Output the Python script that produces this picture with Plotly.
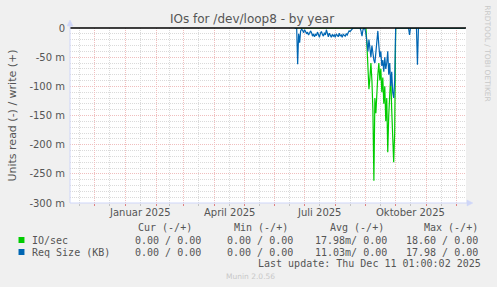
import plotly.graph_objects as go
import pandas as pd

# ---------------- data ----------------
x_start = "2024-11-06 01:00"
x_end = "2025-12-11 01:00"
first_day = "2025-06-21"

# IO/sec, read (-) part, milli-units, one value per day from first_day
io_read = [
    0, 0, 0, 0, 0, 0, 0, 0, 0, 0, 0, 0, 0, 0, 0, 0, 0, 0, 0, 0,
    0, 0, 0, 0, 0, 0, 0, 0, 0, 0, 0, 0, 0, 0, 0, 0, 0, 0, 0, 0,
    0, 0, 0, 0, 0, 0, 0, 0, 0, 0, 0, 0, 0, 0, 0, 0, 0, 0, 0, 0,
    0, 0, 0, 0, 0, 0, 0, 0, 0, 0, 0, 0, 0,
    -30, -70, -105, -85, -60, -90, -140, -262, -120, -146,
    -100, -80, -60, -90, -70, -110, -85, -130, -100, -160,
    -120, -213, -150, -100, -80, -140, -175, -230, -180,
    0, 0, 0, 0, 0, 0, 0, 0, 0, 0, 0, 0, 0, 0, 0, 0, 0, 0, 0, 0,
    0, 0, 0, 0, 0, 0, 0, 0, 0, 0, 0, 0, 0, 0, 0, 0, 0, 0, 0, 0,
    0, 0, 0, 0, 0, 0, 0, 0, 0, 0, 0, 0, 0, 0, 0, 0, 0, 0, 0, 0,
    0, 0, 0, 0, 0, 0, 0, 0, 0, 0, 0,
]

# Req Size (KB), read (-) part, milli-units
req_read = [
    0, 0, 0,
    -62, -10, -25, -5, -2, -4, -8, -3, -6, -10, -7, -12, -9, -5, -8, -14,
    -10, -15, -11, -13, -7, -12, -16, -9, -6, -11, -14, -8, -12, -3, -10,
    -15, -9, -13, -16, -11, -14, -12, -16, -10, -13, -15, -9, -14, -12,
    -16, -11, -13, -14, -10, -12, -8, -5, -6, -3, -2,
    0, 0, 0, 0, 0, 0, 0, 0,
    -5, -14, -3, 0, -2,
    -10, -25, -40, -20, -35, -50, -30, -45, -55, -60,
    -40, -20, -5, -30, -50, -40, -65, -55, -75, -50,
    -70, -60, -40, -80, -60, -100, -75, -110, -120, -90,
    0, 0, 0, 0, 0, 0, 0, 0, 0, 0, 0, 0, 0, 0,
    -12,
    0, 0, 0, 0, 0, 0, 0,
    -63,
    0, 0, 0, 0, 0, 0, 0, 0, 0, 0, 0, 0, 0, 0, 0, 0, 0, 0, 0, 0,
    0, 0, 0, 0, 0, 0, 0, 0, 0, 0, 0, 0, 0, 0, 0, 0, 0, 0, 0, 0,
    0, 0, 0, 0, 0, 0, 0, 0,
]

month_starts = ["2024-12-01", "2025-01-01", "2025-02-01", "2025-03-01", "2025-04-01",
                "2025-05-01", "2025-06-01", "2025-07-01", "2025-08-01", "2025-09-01",
                "2025-10-01", "2025-11-01", "2025-12-01"]
mid_months = ["2024-11-16", "2024-12-16", "2025-01-16", "2025-02-15", "2025-03-16",
              "2025-04-16", "2025-05-16", "2025-06-16", "2025-07-16", "2025-08-16",
              "2025-09-16", "2025-10-16", "2025-11-16"]
label_dates = ["2025-01-16", "2025-04-16", "2025-07-16", "2025-10-16"]
label_text = ["Januar 2025", "April 2025", "Juli 2025", "Oktober 2025"]

y_ticks = [0, -50, -100, -150, -200, -250, -300]
y_labels = ["0", "-50 m", "-100 m", "-150 m", "-200 m", "-250 m", "-300 m"]

series_names = ["IO/sec", "Req Size (KB)"]
series_colors = ["#00CC00", "#0066B3"]
col_heads = ["Cur (-/+)", "Min (-/+)", "Avg (-/+)", "Max (-/+)"]
row_vals = [
    ["0.00 / 0.00", "0.00 / 0.00", "17.98m/ 0.00", "18.60 / 0.00"],
    ["0.00 / 0.00", "0.00 / 0.00", "11.03m/ 0.00", "17.98 / 0.00"],
]
last_update = "Last update: Thu Dec 11 01:00:02 2025"

# ---------------- layout helpers ----------------
W, H = 497, 287
L, R, T, B = 66, 466, 28, 203


def px(x):
    return (x - L) / (R - L)


def py(y):
    return (B - y) / (B - T)


FONT = "DejaVu Sans"
MONO = "DejaVu Sans Mono"
TXT = "#555555"
AXC = "#CFD6F8"
MGRID = "#F0BEBE"
GRID = "#DADADA"

dates = pd.date_range(first_day, periods=len(io_read), freq="D")

fig = go.Figure()
fig.add_trace(go.Scatter(x=dates, y=io_read, mode="lines",
                         line=dict(color=series_colors[0], width=1.2), hoverinfo="skip"))
fig.add_trace(go.Scatter(x=dates, y=req_read, mode="lines",
                         line=dict(color=series_colors[1], width=1.2), hoverinfo="skip"))

fig.update_layout(
    width=W, height=H,
    margin=dict(l=L, r=W - R, t=T, b=H - B),
    paper_bgcolor="#F0F0F0", plot_bgcolor="#FFFFFF",
    showlegend=False,
    xaxis=dict(type="date", range=[x_start, x_end], tickmode="array", tickvals=month_starts,
               showticklabels=False, showgrid=True, gridcolor=MGRID, griddash="1px,1px",
               gridwidth=1, ticks="outside", ticklen=2, tickcolor="#E08080",
               minor=dict(tickmode="array", tickvals=mid_months, showgrid=True, gridcolor=GRID,
                          griddash="1px,1px", gridwidth=1, ticks="outside", ticklen=2,
                          tickcolor="#C4C4C4"),
               zeroline=False, showline=False, fixedrange=True),
    yaxis=dict(range=[-300, 0], tickmode="array", tickvals=y_ticks, ticktext=y_labels,
               showgrid=True, gridcolor=MGRID, griddash="1px,1px", gridwidth=1,
               minor=dict(dtick=10, showgrid=True, gridcolor=GRID, griddash="1px,1px", gridwidth=1),
               zeroline=False, showline=False, ticks="", ticklabelstandoff=4,
               tickfont=dict(family=FONT, size=10, color=TXT), fixedrange=True,
               title=dict(text="Units read (-) / write (+)", font=dict(family=FONT, size=11, color=TXT),
                          standoff=10)),
)

shapes = []
# zero rule
shapes.append(dict(type="line", xref="paper", yref="paper", x0=0, x1=1, y0=1, y1=1,
                   line=dict(color="#000000", width=1.3), layer="above"))
# axes with arrows
shapes.append(dict(type="line", xref="paper", yref="paper", x0=0, x1=0, y0=0, y1=py(26),
                   line=dict(color=AXC, width=1), layer="above"))
shapes.append(dict(type="path", xref="paper", yref="paper",
                   path=f"M {px(63)},{py(26)} L {px(69)},{py(26)} L {px(66)},{py(20)} Z",
                   fillcolor=AXC, line=dict(color=AXC, width=0.5), layer="above"))
shapes.append(dict(type="line", xref="paper", yref="paper", x0=0, x1=px(467), y0=0, y1=0,
                   line=dict(color=AXC, width=1), layer="above"))
shapes.append(dict(type="path", xref="paper", yref="paper",
                   path=f"M {px(467)},{py(200)} L {px(467)},{py(206)} L {px(473)},{py(203)} Z",
                   fillcolor=AXC, line=dict(color=AXC, width=0.5), layer="above"))
# legend swatches
for i, c in enumerate(series_colors):
    yc = 240 + 12 * i
    shapes.append(dict(type="rect", xref="paper", yref="paper",
                       x0=px(14), x1=px(20), y0=py(yc - 3), y1=py(yc + 3),
                       fillcolor=c, line=dict(width=0), layer="above"))
fig.update_layout(shapes=shapes)

ann = []


def text(x, y, s, size=10, family=MONO, color=TXT, anchor="left", angle=0):
    ann.append(dict(xref="paper", yref="paper", x=px(x), y=py(y), text=s, showarrow=False,
                    xanchor=anchor, yanchor="middle", textangle=angle, borderpad=0,
                    font=dict(family=family, size=size, color=color)))


# x-axis time labels, positioned through the date axis
for d, s in zip(label_dates, label_text):
    ann.append(dict(xref="x", yref="paper", x=d, y=py(212), text=s, showarrow=False,
                    xanchor="center", yanchor="middle", borderpad=0,
                    font=dict(family=FONT, size=10, color=TXT)))

text(250, 19, "IOs for /dev/loop8 - by year", size=12, family=FONT, color=TXT, anchor="center")
text(488, 54, "RRDTOOL / TOBI OETIKER", size=7.5, family=FONT, color="#C8C8C8",
     anchor="center", angle=90)
head_x = [134, 231, 328, 423]
val_x = [131, 224, 312, 404]
for hx, h in zip(head_x, col_heads):
    text(hx, 227, h)
for i, name in enumerate(series_names):
    yy = 240 + 12 * i
    text(27, yy, name)
    for vx, v in zip(val_x, row_vals[i]):
        text(vx, yy, v)
text(482, 263, last_update, anchor="right")
text(248, 276, "Munin 2.0.56", size=7.5, family=FONT, color="#C8C8C8", anchor="center")
fig.update_layout(annotations=ann)

fig.write_html("out.html")
